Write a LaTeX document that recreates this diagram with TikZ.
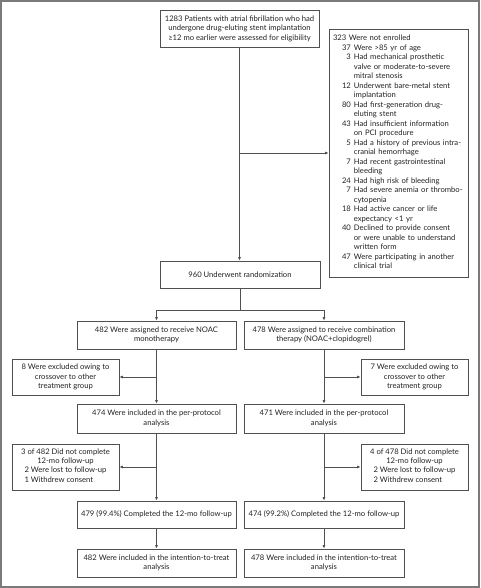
\documentclass[tikz,border=0pt]{standalone}
\usepackage{fontspec}
\setmainfont{Lato}
\usetikzlibrary{arrows.meta}
\definecolor{boxc}{HTML}{505050}
\definecolor{linec}{HTML}{505050}
\definecolor{framec}{HTML}{7A7A7A}
\definecolor{txt}{HTML}{222222}
\newcommand\fs{\fontsize{7.65}{9.5}\selectfont}
\begin{document}
\begin{tikzpicture}[x=1pt,y=-1pt,
  box/.style={draw=boxc, line width=0.7pt, inner sep=0pt, align=center, font=\fs, text=txt},
  conn/.style={draw=linec, line width=0.7pt},
  arr/.style={conn, -{Latex[length=3.5pt,width=3pt]}}]
\useasboundingbox (0,0) rectangle (480,588);
\draw[framec, line width=1.5pt] (1,1) rectangle (479,587);

\node[box, minimum width=159pt, minimum height=37pt] (top) at (239.5,28.5)
  {1283 Patients with atrial fibrillation who had\\undergone drug-eluting stent implantation\\≥12 mo earlier were assessed for eligibility};

\node[box, align=left, text width=131pt, inner xsep=4pt, minimum height=248pt] (ne) at (398.5,153)
  {\begin{tabular}{@{\hspace{9pt}}r@{\hspace{3pt}}l@{}}
   \multicolumn{2}{@{}l@{}}{323 Were not enrolled}\\
   37 & Were >85 yr of age\\
   3 & Had mechanical prosthetic\\
     & valve or moderate-to-severe\\
     & mitral stenosis\\
   12 & Underwent bare-metal stent\\
     & implantation\\
   80 & Had first-generation drug-\\
     & eluting stent\\
   43 & Had insufficient information\\
     & on PCI procedure\\
   5 & Had a history of previous intra-\\
     & cranial hemorrhage\\
   7 & Had recent gastrointestinal\\
     & bleeding\\
   24 & Had high risk of bleeding\\
   7 & Had severe anemia or thrombo-\\
     & cytopenia\\
   18 & Had active cancer or life\\
     & expectancy <1 yr\\
   40 & Declined to provide consent\\
     & or were unable to understand\\
     & written form\\
   47 & Were participating in another\\
     & clinical trial
   \end{tabular}};

\node[box, minimum width=160pt, minimum height=27pt] (rand) at (240,274.5) {960 Underwent randomization};

\node[box, minimum width=159pt, minimum height=28pt] (noac) at (156.5,335) {482 Were assigned to receive NOAC\\monotherapy};
\node[box, minimum width=160pt, minimum height=28pt] (comb) at (324,335) {478 Were assigned to receive combination\\therapy (NOAC+clopidogrel)};

\node[box, minimum width=107pt, minimum height=36pt] (exL) at (65.5,377) {8 Were excluded owing to\\crossover to other\\treatment group};
\node[box, minimum width=107pt, minimum height=36pt] (exR) at (414.5,377) {7 Were excluded owing to\\crossover to other\\treatment group};

\node[box, minimum width=159pt, minimum height=29pt] (ppL) at (156.5,418.5) {474 Were included in the per-protocol\\analysis};
\node[box, minimum width=160pt, minimum height=29pt] (ppR) at (324,418.5) {471 Were included in the per-protocol\\analysis};

\node[box, minimum width=107pt, minimum height=46pt] (dnL) at (65.5,467)
  {3 of 482 Did not complete\\12-mo follow-up\\\begin{tabular}{@{}l@{}}2 Were lost to follow-up\\1 Withdrew consent\end{tabular}};
\node[box, minimum width=107pt, minimum height=46pt] (dnR) at (414.5,467)
  {4 of 478 Did not complete\\12-mo follow-up\\\begin{tabular}{@{}l@{}}2 Were lost to follow-up\\2 Withdrew consent\end{tabular}};

\node[box, minimum width=159pt, minimum height=27pt] (coL) at (156.5,514.5) {479 (99.4\%) Completed the 12-mo follow-up};
\node[box, minimum width=160pt, minimum height=27pt] (coR) at (324,514.5) {474 (99.2\%) Completed the 12-mo follow-up};

\node[box, minimum width=159pt, minimum height=28pt] (itL) at (156.5,563) {482 Were included in the intention-to-treat\\analysis};
\node[box, minimum width=160pt, minimum height=28pt] (itR) at (324,563) {478 Were included in the intention-to-treat\\analysis};

% connectors
\draw[arr] (top.south) -- (top.south |- rand.north);
\draw[arr] (top.south |- ne.west) -- (ne.west);
\coordinate (split) at (rand.south |- 0,310);
\draw[conn] (rand.south) -- (split);
\draw[arr] (split) -| (noac.north);
\draw[arr] (split) -| (comb.north);

\draw[arr] (noac.south) -- (ppL.north);
\draw[arr] (noac.south |- exL.east) -- (exL.east);
\draw[arr] (comb.south) -- (ppR.north);
\draw[arr] (comb.south |- exR.west) -- (exR.west);

\draw[arr] (ppL.south) -- (coL.north);
\draw[arr] (ppL.south |- dnL.east) -- (dnL.east);
\draw[arr] (ppR.south) -- (coR.north);
\draw[arr] (ppR.south |- dnR.west) -- (dnR.west);

\draw[arr] (coL.south) -- (itL.north);
\draw[arr] (coR.south) -- (itR.north);
\end{tikzpicture}
\end{document}
